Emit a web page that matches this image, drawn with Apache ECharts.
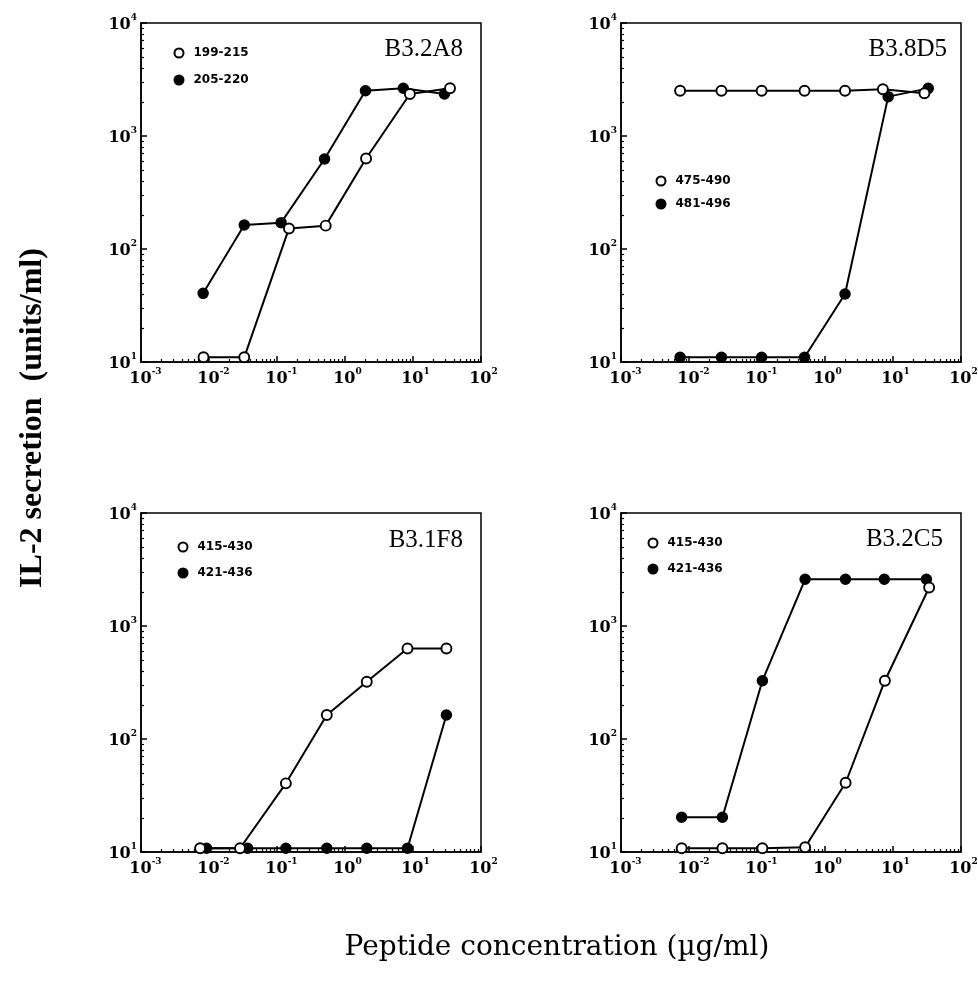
<!DOCTYPE html>
<html><head><meta charset="utf-8">
<script src="https://cdn.jsdelivr.net/npm/echarts@6/dist/echarts.min.js"></script>
<style>html,body{margin:0;padding:0;background:#fff}#c{width:978px;height:982px}</style>
</head><body><div id="c"></div>
<script>
// ---- data ----
const panelNames = ['B3.2A8', 'B3.8D5', 'B3.1F8', 'B3.2C5'];
const openNames = ['199-215', '475-490', '415-430', '415-430'];
const fillNames = ['205-220', '481-496', '421-436', '421-436'];

const a_open_x = [0.0083, 0.033, 0.15, 0.52, 2.04, 9.0, 35];
const a_open_y = [11, 11, 152, 161, 632, 2355, 2643];
const a_fill_x = [0.0082, 0.033, 0.115, 0.5, 2.0, 7.2, 29];
const a_fill_y = [40.5, 163, 171, 626, 2512, 2643, 2355];

const b_open_x = [0.0074, 0.030, 0.117, 0.50, 1.97, 7.1, 29];
const b_open_y = [2512, 2512, 2512, 2512, 2512, 2590, 2390];
const b_fill_x = [0.0074, 0.030, 0.117, 0.50, 1.97, 8.5, 33];
const b_fill_y = [11, 11, 11, 11, 40, 2230, 2640];

const c_open_x = [0.0074, 0.0286, 0.135, 0.54, 2.09, 8.3, 31];
const c_open_y = [10.8, 10.8, 40.5, 163, 321, 632, 632];
const c_fill_x = [0.0092, 0.037, 0.135, 0.54, 2.09, 8.3, 31];
const c_fill_y = [10.8, 10.8, 10.8, 10.8, 10.8, 10.8, 163];

const d_open_x = [0.0078, 0.031, 0.12, 0.51, 2.01, 7.6, 34];
const d_open_y = [10.8, 10.8, 10.8, 11, 41, 328, 2190];
const d_fill_x = [0.0078, 0.031, 0.12, 0.51, 2.0, 7.45, 31];
const d_fill_y = [20.3, 20.3, 328, 2590, 2590, 2590, 2590];

const xMin = 0.001, xMax = 100;
const yMin = 10, yMax = 10000;
const xDecades = [0.001, 0.01, 0.1, 1, 10];
const yDecades = [10, 100, 1000];
const minorMultipliers = [2, 3, 4, 5, 6, 7, 8, 9];

// ---- build ----
const openData = [[a_open_x, a_open_y], [b_open_x, b_open_y], [c_open_x, c_open_y], [d_open_x, d_open_y]];
const fillData = [[a_fill_x, a_fill_y], [b_fill_x, b_fill_y], [c_fill_x, c_fill_y], [d_fill_x, d_fill_y]];
const zip = (xs, ys) => xs.map((x, i) => [x, ys[i]]);
const minorOf = decs => { const out = []; decs.forEach(d => minorMultipliers.forEach(m => out.push(+(d * m).toPrecision(3)))); return out; };
const xMinor = minorOf(xDecades);
const yMinor = minorOf(yDecades);

const gridPos = [[141, 23], [621, 23], [141, 513], [621, 513]];
const GW = 340, GH = 339;
const black = '#000';
const rich = {
  p1: { width: 5, fontSize: 10, lineHeight: 20 },
  p2: { width: 9, fontSize: 10, lineHeight: 20 },
  b: { fontFamily: 'DejaVu Serif', fontWeight: 'bold', fontSize: 16, color: black, lineHeight: 20, verticalAlign: 'bottom' },
  s: { fontFamily: 'DejaVu Serif', fontWeight: 'bold', fontSize: 9, color: black, lineHeight: 10, verticalAlign: 'top' }
};
const fmtY = v => '{b|10}{s|' + Math.round(Math.log10(v)) + '}';
const fmtX = v => { const e = Math.round(Math.log10(v)); return (e < 0 ? '{p2|}' : '{p1|}') + '{b|10}{s|' + e + '}'; };

const grid = [], xAxis = [], yAxis = [], series = [], legend = [], title = [];
const legendPos = [[173.5, 47], [655.5, 175], [177.5, 541], [647.5, 537]];
const legendGap = [15, 11, 14, 14];
const titlePos = [[515, 37], [31, 37], [515, 528], [35, 527]];

for (let i = 0; i < 4; i++) {
  grid.push({ left: gridPos[i][0], top: gridPos[i][1], width: GW, height: GH, show: true, borderColor: black, borderWidth: 1.5, backgroundColor: 'transparent', containLabel: false, outerBoundsMode: 'none' });
  xAxis.push({
    type: 'log', logBase: 10, gridIndex: i, min: xMin, max: xMax, position: 'bottom',
    axisLine: { show: true, lineStyle: { color: black, width: 1.6 } },
    axisTick: { show: true, inside: true, length: 6, lineStyle: { color: black, width: 1.5 } },
    axisLabel: { margin: 5, formatter: fmtX, rich: rich },
    splitLine: { show: false }
  });
  xAxis.push({
    type: 'log', logBase: 10, gridIndex: i, min: xMin, max: xMax, position: 'bottom',
    axisLine: { show: false },
    axisTick: { show: true, inside: true, length: 3, customValues: xMinor, lineStyle: { color: black, width: 1.2 } },
    axisLabel: { show: false }, splitLine: { show: false }
  });
  yAxis.push({
    type: 'log', logBase: 10, gridIndex: i, min: yMin, max: yMax, position: 'left',
    axisLine: { show: true, lineStyle: { color: black, width: 1.6 } },
    axisTick: { show: true, inside: true, length: 6, lineStyle: { color: black, width: 1.5 } },
    axisLabel: { margin: 4, formatter: fmtY, rich: rich },
    splitLine: { show: false }
  });
  yAxis.push({
    type: 'log', logBase: 10, gridIndex: i, min: yMin, max: yMax, position: 'left',
    axisLine: { show: false },
    axisTick: { show: true, inside: true, length: 3, customValues: yMinor, lineStyle: { color: black, width: 1.2 } },
    axisLabel: { show: false }, splitLine: { show: false }
  });
  const common = {
    type: 'line', xAxisIndex: 2 * i, yAxisIndex: 2 * i, symbol: 'circle', symbolSize: 10,
    clip: false, animation: false,
    lineStyle: { color: black, width: 2 }
  };
  series.push(Object.assign({}, common, {
    name: fillNames[i], data: zip(fillData[i][0], fillData[i][1]),
    itemStyle: { color: black, borderColor: black, borderWidth: 1.5 }
  }));
  series.push(Object.assign({}, common, {
    name: openNames[i], data: zip(openData[i][0], openData[i][1]),
    itemStyle: { color: '#fff', borderColor: black, borderWidth: 1.9 }
  }));
  legend.push({
    left: legendPos[i][0], top: legendPos[i][1], orient: 'vertical', icon: 'circle',
    itemWidth: 9, itemHeight: 9, itemGap: legendGap[i], selectedMode: false, padding: 0,
    data: [openNames[i], fillNames[i]],
    textStyle: { fontFamily: 'DejaVu Sans', fontWeight: 'bold', fontSize: 12, color: black, padding: [0, 0, 0, 5] }
  });
  title.push({
    text: panelNames[i], right: titlePos[i][0], top: titlePos[i][1], padding: 0,
    textStyle: { fontFamily: 'Liberation Serif', fontWeight: 'normal', fontSize: 25, color: black }
  });
}

const chart = echarts.init(document.getElementById('c'), null, { renderer: 'canvas' });
chart.setOption({
  animation: false,
  backgroundColor: '#fff',
  grid, xAxis, yAxis, series, legend, title,
  graphic: [
    { type: 'text', x: 557, y: 948, style: { text: 'Peptide concentration (\u00b5g/ml)', font: '28px "DejaVu Serif"', fill: black, textAlign: 'center', textVerticalAlign: 'middle', align: 'center', verticalAlign: 'middle' } },
    { type: 'text', x: 33, y: 418, rotation: Math.PI / 2, style: { text: 'IL-2 secretion  (units/ml)', font: 'bold 32px "Liberation Serif"', fill: black, textAlign: 'center', textVerticalAlign: 'middle', align: 'center', verticalAlign: 'middle' } }
  ]
});
</script></body></html>
